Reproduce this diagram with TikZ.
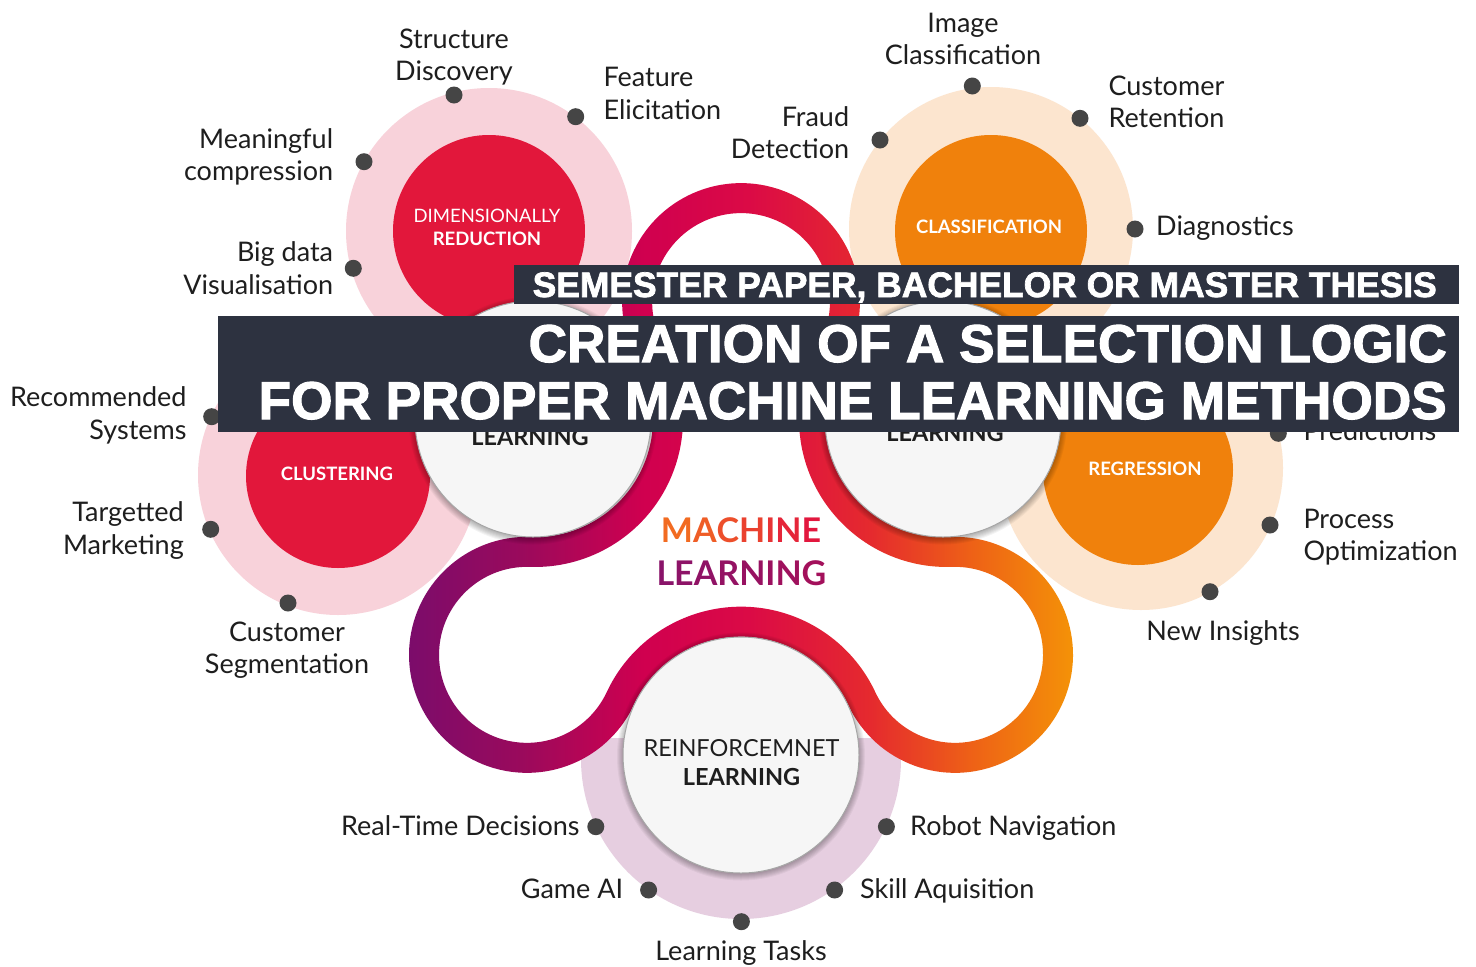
\documentclass[tikz,border=0pt]{standalone}
\usepackage{fontspec}
\setmainfont{Lato}
\newfontfamily\bannerfont[BoldFeatures={FakeBold=2}]{Liberation Sans}

% palette
\definecolor{pinkring}{HTML}{F8D2DA}
\definecolor{crimson}{HTML}{E2173B}
\definecolor{peach}{HTML}{FCE5CF}
\definecolor{orangec}{HTML}{F0810C}
\definecolor{lilac}{HTML}{E6CEE0}
\definecolor{dotgray}{HTML}{454545}
\definecolor{bannerbg}{HTML}{2D3240}
\definecolor{ink}{HTML}{1E1E1E}
\definecolor{wfill}{HTML}{F6F6F6}
\definecolor{discedge}{HTML}{A6A6A6}
\definecolor{mA}{HTML}{F26B21}
\definecolor{mB}{HTML}{E2173E}
\definecolor{lA}{HTML}{891369}
\definecolor{lB}{HTML}{A3105B}
% ribbon gradient stops, left to right
\definecolor{rbA}{HTML}{7B0C6B}
\definecolor{rbB}{HTML}{9A0A5C}
\definecolor{rbC}{HTML}{D0004F}
\definecolor{rbD}{HTML}{DB0A46}
\definecolor{rbE}{HTML}{E52A2E}
\definecolor{rbF}{HTML}{EE6216}
\definecolor{rbG}{HTML}{F59A05}

\pgfdeclarehorizontalshading{ribbonshade}{100bp}{%
  color(0bp)=(rbA); color(25bp)=(rbA); color(33.36bp)=(rbB);
  color(42.39bp)=(rbC); color(50bp)=(rbD); color(58.96bp)=(rbE);
  color(66.49bp)=(rbF); color(75bp)=(rbG); color(100bp)=(rbG)}

% centre line of the flower ribbon: a chain of tangent circular arcs,
% #1 shifts it sideways (half the ribbon width on either side)
\newcommand\ribbonloop[1]{(741,302) ++(150.41:{103.9+(#1)})
  arc[start angle=330.41, end angle=451.94, radius={133-(#1)}]
  arc[start angle=271.94, end angle=25.07, radius={103+(#1)}]
  arc[start angle=205.07, end angle=334.93, radius={133.25-(#1)}]
  arc[start angle=154.93, end angle=-91.94, radius={103+(#1)}]
  arc[start angle=88.06, end angle=209.59, radius={133-(#1)}]
  arc[start angle=29.59, end angle=-209.59, radius={103.9+(#1)}]
  -- cycle }

\newcommand\discshadow[1]{%
  \foreach \k in {1,...,7}{\fill[black, opacity=0.045] (#1) ++(0,1.5) circle[radius=117+\k];}}

\begin{document}
\begin{tikzpicture}[x=1pt, y=-1pt,
  ring/.style={circle, inner sep=0pt, draw=none},
  dot/.style={circle, inner sep=0pt, minimum size=17pt, fill=dotgray},
  lbl/.style={inner sep=0pt, text=ink, font=\fontsize{27}{32.5}\selectfont},
  coretext/.style={inner sep=0pt, text=white, font=\fontsize{18.5}{23}\selectfont\bfseries},
  disctext/.style={inner sep=0pt, text=ink, font=\fontsize{23.5}{28}\selectfont},
  whitedisc/.style={circle, inner sep=0pt, minimum size=236pt, fill=wfill, draw=discedge, line width=1pt},
  bar/.style={fill=bannerbg, draw=none, inner sep=0pt, anchor=north west},
  bartext/.style={inner sep=0pt, text=white, anchor=base east}
]
\useasboundingbox (0,0) rectangle (1476,967);
\fill[white] (0,0) rectangle (1476,967);

% outer halos
\node[ring, minimum size=286pt, fill=pinkring] (dimring) at (489,231) {};
\node[ring, minimum size=280pt, fill=pinkring] (clring) at (338,475) {};
\node[ring, minimum size=284pt, fill=peach] (csring) at (991,229) {};
\node[ring, minimum size=284pt, fill=peach] (rgring) at (1141,468) {};
\begin{scope}
  \clip (0,738) rectangle (1476,967);
  \node[ring, minimum size=320pt, fill=lilac] (rlring) at (741,759) {};
\end{scope}

% coloured cores
\node[ring, minimum size=192pt, fill=crimson] (dimcore) at (489,231) {};
\node[ring, minimum size=184pt, fill=crimson] (clcore) at (338,476) {};
\node[ring, minimum size=192pt, fill=orangec] (cscore) at (991,231) {};
\node[ring, minimum size=190pt, fill=orangec] (rgcore) at (1138,470) {};

% gradient ribbon
\shade[shading=ribbonshade, even odd rule] \ribbonloop{15} \ribbonloop{-15};

% white learning discs with soft shadow
\discshadow{533,419}
\discshadow{943,419}
\discshadow{741,755}
\node[whitedisc] (unsup) at (533,419) {};
\node[whitedisc] (sup) at (943,419) {};
\node[whitedisc] (reinf) at (741,755) {};

% texts of the discs
\node[coretext, anchor=base, font=\fontsize{18.5}{23}\selectfont] (dimA) at (487,222.3) {DIMENSIONALLY};
\node[coretext, anchor=base] (dimB) at (487,245.7) {REDUCTION};
\node[coretext, anchor=base] (clt) at (337,480) {CLUSTERING};
\node[coretext, anchor=base] (cst) at (989,233.3) {CLASSIFICATION};
\node[coretext, anchor=base] (rgt) at (1145,475) {REGRESSION};
\node[disctext, anchor=base] (rlA) at (741.5,756.7) {REINFORCEMNET};
\node[disctext, anchor=base, font=\fontsize{23.5}{28}\selectfont\bfseries] (rlB) at (741.5,785) {LEARNING};
\node[disctext, anchor=base, font=\fontsize{23.5}{28}\selectfont\bfseries] (unsupt) at (530,445) {LEARNING};
\node[disctext, anchor=base, font=\fontsize{23.5}{28}\selectfont\bfseries] (supt) at (945,441.7) {LEARNING};

% centre title
\node[inner sep=0pt, anchor=base, font=\fontsize{34}{40}\selectfont\bfseries] (mlA) at (741,542)
  {\textcolor{mB!0!mA}{M}\textcolor{mB!17!mA}{A}\textcolor{mB!33!mA}{C}\textcolor{mB!50!mA}{H}\textcolor{mB!67!mA}{I}\textcolor{mB!83!mA}{N}\textcolor{mB!100!mA}{E}};
\node[inner sep=0pt, anchor=base, font=\fontsize{34}{40}\selectfont\bfseries] (mlB) at (741.5,585)
  {\textcolor{lB!0!lA}{L}\textcolor{lB!14!lA}{E}\textcolor{lB!28!lA}{A}\textcolor{lB!42!lA}{R}\textcolor{lB!56!lA}{N}\textcolor{lB!70!lA}{I}\textcolor{lB!85!lA}{N}\textcolor{lB!100!lA}{G}};

% bullet points
\node[dot] (d1) at (454,95) {};
\node[dot] (d2) at (575.7,116.7) {};
\node[dot] (d3) at (364,161.7) {};
\node[dot] (d4) at (353.3,268.3) {};
\node[dot] (d5) at (972.3,86) {};
\node[dot] (d6) at (1080,118.3) {};
\node[dot] (d7) at (880,140) {};
\node[dot] (d8) at (1135,229) {};
\node[dot] (d9) at (1278.3,433.3) {};
\node[dot] (d10) at (1270,525) {};
\node[dot] (d11) at (1210,591.7) {};
\node[dot] (d12) at (211.7,416.7) {};
\node[dot] (d13) at (210.7,529.3) {};
\node[dot] (d14) at (288,603) {};
\node[dot] (d15) at (595.8,826.7) {};
\node[dot] (d16) at (886.4,826.7) {};
\node[dot] (d17) at (648.6,890) {};
\node[dot] (d18) at (834.6,890) {};
\node[dot] (d19) at (741.4,921.7) {};

% labels (two-line labels are placed by the baseline of their last line)
\node[lbl, anchor=base, align=center] (l1) at (454,80.8) {Structure\\Discovery};
\node[lbl, anchor=base west, align=left] (l2) at (603.3,119.2) {Feature\\Elicitation};
\node[lbl, anchor=base east, align=right] (l3) at (333.3,180.8) {Meaningful\\compression};
\node[lbl, anchor=base east, align=right] (l4) at (333.3,294.2) {Big data\\Visualisation};
\node[lbl, anchor=base, align=center] (l5) at (963,64.5) {Image\\Classification};
\node[lbl, anchor=base west, align=left] (l6) at (1108.3,127.5) {Customer\\Retention};
\node[lbl, anchor=base east, align=right] (l7) at (849.3,158.5) {Fraud\\Detection};
\node[lbl, anchor=base west] (l8) at (1156,235) {Diagnostics};
\node[lbl, anchor=base west] (l9) at (1303.3,440) {Predictions};
\node[lbl, anchor=base west, align=left] (l10) at (1303.3,560.8) {Process\\Optimization};
\node[lbl, anchor=base] (l11) at (1223,640) {New Insights};
\node[lbl, anchor=base east, align=right] (l12) at (186.7,439.2) {Recommended\\Systems};
\node[lbl, anchor=base east, align=right] (l13) at (184,554.2) {Targetted\\Marketing};
\node[lbl, anchor=base, align=center] (l14) at (287,673.5) {Customer\\Segmentation};
\node[lbl, anchor=base east] (l15) at (579.7,835) {Real-Time Decisions};
\node[lbl, anchor=base west] (l16) at (910,835) {Robot Navigation};
\node[lbl, anchor=base east] (l17) at (623.3,898.3) {Game AI};
\node[lbl, anchor=base west] (l18) at (860,898.3) {Skill Aquisition};
\node[lbl, anchor=base] (l19) at (741,960) {Learning Tasks};

% title banners
\node[bar, minimum width=945pt, minimum height=39pt] (topbar) at (514,265) {};
\node[bar, minimum width=1241pt, minimum height=116pt] (mainbar) at (218,316) {};
\node[bartext, font=\bannerfont\bfseries\fontsize{35.4}{40}\selectfont] (toptext) at (1437,297)
  {SEMESTER PAPER, BACHELOR OR MASTER THESIS};
\node[bartext, font=\bannerfont\bfseries\fontsize{53.2}{58}\selectfont] (mainA) at (1447,362)
  {CREATION OF A SELECTION LOGIC};
\node[bartext, font=\bannerfont\bfseries\fontsize{53.2}{58}\selectfont] (mainB) at (1447,419)
  {FOR PROPER MACHINE LEARNING METHODS};
\end{tikzpicture}
\end{document}
